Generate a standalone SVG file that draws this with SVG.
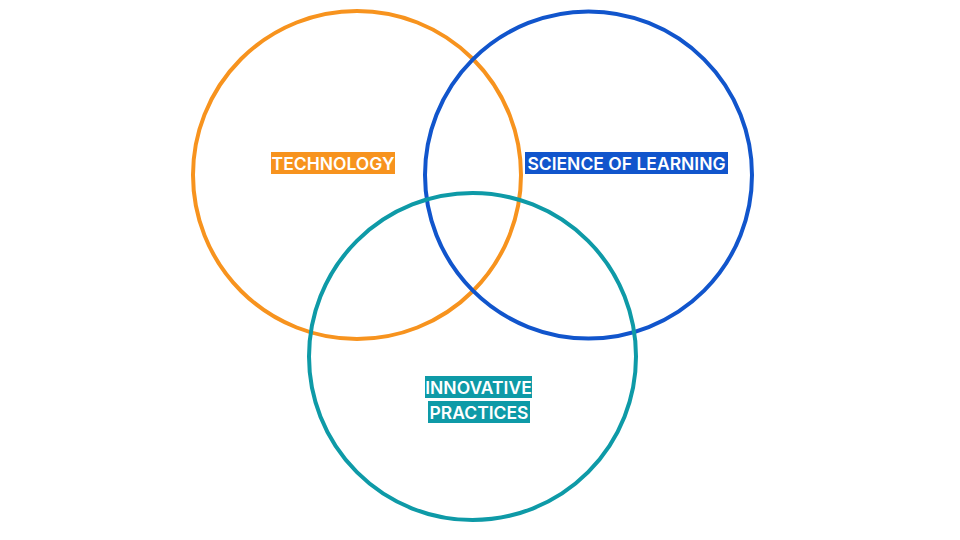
<svg xmlns="http://www.w3.org/2000/svg" width="960" height="540" viewBox="0 0 960 540">
<style>
.c{fill:none;stroke-width:4}
.t{font-family:Inter,"Liberation Sans",sans-serif;font-size:17.5px;font-weight:600;fill:#fff;text-anchor:middle}
</style>
<rect width="960" height="540" fill="#fff"/>
<g id="technology">
<circle class="c" cx="357" cy="175" r="164" stroke="#F7931E"/>
</g>
<g id="science">
<circle class="c" cx="588.5" cy="175" r="163.5" stroke="#1155CC"/>
</g>
<g id="innovative">
<circle class="c" cx="472.5" cy="356.5" r="163.5" stroke="#0E9AA7"/>
</g>
<g id="label-technology">
<rect x="271" y="152" width="124" height="22" fill="#F7931E"/>
<text class="t" x="333" y="169.5">TECHNOLOGY</text>
</g>
<g id="label-science">
<rect x="525" y="152" width="203" height="22" fill="#1155CC"/>
<text class="t" x="626.5" y="169.5">SCIENCE OF LEARNING</text>
</g>
<g id="label-innovative">
<rect x="425" y="376" width="107" height="22" fill="#0E9AA7"/>
<text class="t" x="478.5" y="393.5">INNOVATIVE</text>
<rect x="428" y="401" width="102" height="22" fill="#0E9AA7"/>
<text class="t" x="479" y="418.5">PRACTICES</text>
</g>
</svg>
